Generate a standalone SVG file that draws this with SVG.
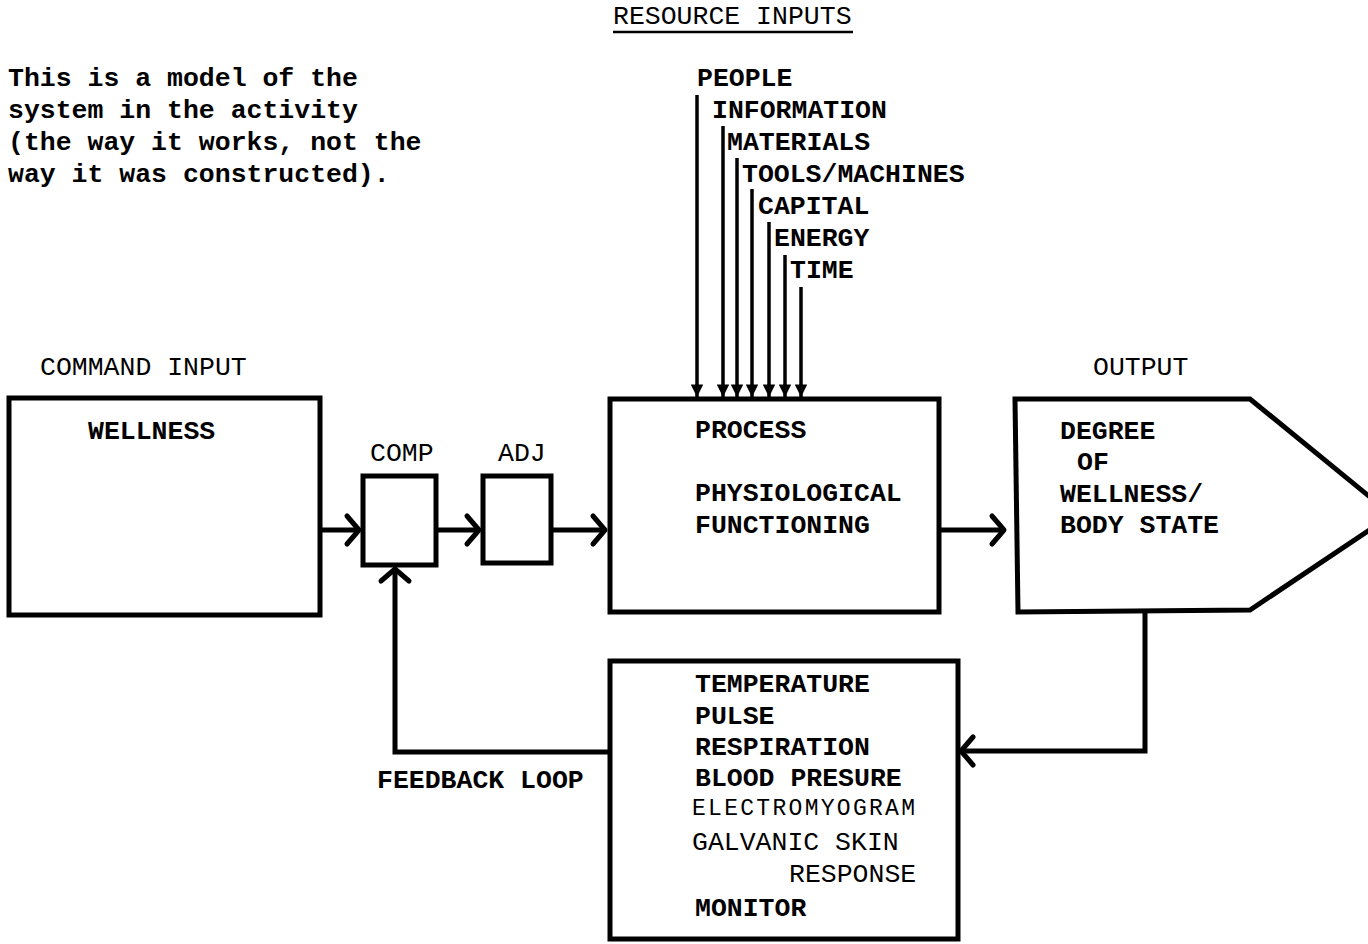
<svg xmlns="http://www.w3.org/2000/svg" width="1368" height="944" viewBox="0 0 1368 944">
<defs>
<style>
text{font-family:"Liberation Mono","Courier New",monospace;font-size:26.5px;fill:#000;font-weight:bold}
.n{font-weight:normal}
.box{fill:#fff;stroke:#000;stroke-width:5;stroke-linejoin:miter}
.ln{fill:none;stroke:#000;stroke-width:5}
.rs{fill:none;stroke:#000;stroke-width:3.5}
.chev{fill:none;stroke:#000;stroke-width:5;stroke-linecap:round;stroke-linejoin:round}
</style>
<marker id="tri" viewBox="0 0 10 10" refX="10" refY="5" markerWidth="4" markerHeight="3.6" orient="auto" markerUnits="strokeWidth">
<path d="M0,0 L10,5 L0,10 Z" fill="#000"/>
</marker>
</defs>
<rect width="1368" height="944" fill="#fff"/>

<g id="note">
<text x="8" y="86">This is a model of the</text>
<text x="8" y="118">system in the activity</text>
<text x="8" y="150">(the way it works, not the</text>
<text x="8" y="182">way it was constructed).</text>
</g>

<g id="resource-inputs">
<text x="613" y="24" class="n">RESOURCE INPUTS</text>
<line x1="613" y1="32" x2="853" y2="32" stroke="#000" stroke-width="2.5"/>
<text x="697" y="86">PEOPLE</text>
<text x="712" y="118">INFORMATION</text>
<text x="727" y="150">MATERIALS</text>
<text x="742" y="182">TOOLS/MACHINES</text>
<text x="758" y="214">CAPITAL</text>
<text x="774" y="246">ENERGY</text>
<text x="790" y="278">TIME</text>
</g>

<g id="command-input">
<text x="40" y="375" class="n">COMMAND INPUT</text>
<rect class="box" x="9" y="398" width="311" height="217"/>
<text x="88" y="439">WELLNESS</text>
</g>

<g id="comp">
<text x="370" y="461" class="n">COMP</text>
<rect class="box" x="363" y="476" width="73" height="89"/>
</g>

<g id="adj">
<text x="498" y="461" class="n">ADJ</text>
<rect class="box" x="483" y="476" width="68" height="87"/>
</g>

<g id="process">
<rect class="box" x="610" y="399" width="329" height="213"/>
<text x="695" y="438">PROCESS</text>
<text x="695" y="501">PHYSIOLOGICAL</text>
<text x="695" y="533">FUNCTIONING</text>
</g>

<g id="output">
<text x="1093" y="375" class="n">OUTPUT</text>
<polygon class="box" points="1015,399 1250,399 1392,515 1250,610 1018,612"/>
<text x="1060" y="439">DEGREE</text>
<text x="1077" y="470">OF</text>
<text x="1060" y="502">WELLNESS/</text>
<text x="1060" y="533">BODY STATE</text>
</g>

<g id="monitor">
<rect class="box" x="610" y="661" width="348" height="278"/>
<text x="695" y="692">TEMPERATURE</text>
<text x="695" y="724">PULSE</text>
<text x="695" y="755">RESPIRATION</text>
<text x="695" y="786">BLOOD PRESURE</text>
<text x="692" y="815" class="n" style="font-size:23px" textLength="223" lengthAdjust="spacing">ELECTROMYOGRAM</text>
<text x="692" y="850" class="n">GALVANIC SKIN</text>
<text x="789" y="882" class="n">RESPONSE</text>
<text x="695" y="916">MONITOR</text>
</g>

<g id="connectors">
<g class="rs" marker-end="url(#tri)">
<line x1="697" y1="95" x2="697" y2="397"/>
<line x1="723" y1="126" x2="723" y2="397"/>
<line x1="737" y1="158" x2="737" y2="397"/>
<line x1="752" y1="189" x2="752" y2="397"/>
<line x1="769" y1="222" x2="769" y2="397"/>
<line x1="785" y1="255" x2="785" y2="397"/>
<line x1="801" y1="287" x2="801" y2="397"/>
</g>
<line class="ln" x1="320" y1="530" x2="358" y2="530"/>
<polyline class="chev" points="347,516 359,530 347,544"/>
<line class="ln" x1="436" y1="530" x2="478" y2="530"/>
<polyline class="chev" points="467,516 479,530 467,544"/>
<line class="ln" x1="551" y1="530" x2="604" y2="530"/>
<polyline class="chev" points="593,516 605,530 593,544"/>
<line class="ln" x1="939" y1="530" x2="1003" y2="530"/>
<polyline class="chev" points="992,516 1004,530 992,544"/>
<polyline class="ln" points="1145,612 1145,751 962,751"/>
<polyline class="chev" points="973,737 961,751 973,765"/>
<polyline class="ln" points="610,752 395,752 395,570"/>
<polyline class="chev" points="381,581 395,569 409,581"/>
<text x="377" y="788">FEEDBACK LOOP</text>
</g>
</svg>
